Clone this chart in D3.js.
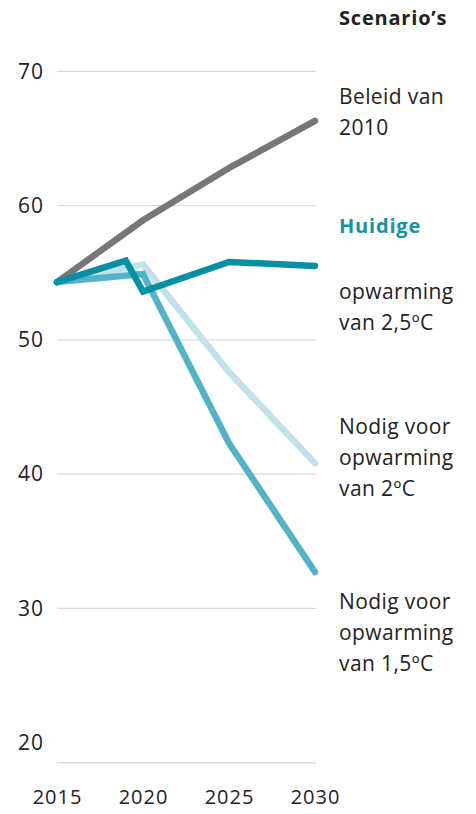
<!DOCTYPE html>
<html>
<head>
<meta charset="utf-8">
<script src="https://cdn.jsdelivr.net/npm/d3@7"></script>
<style>
  body { margin: 0; background: #fff; }
  text { font-family: "Open Sans", sans-serif; fill: #222; }
</style>
</head>
<body>
<div id="chart"></div>
<script>
const width = 476, height = 814;

// data
const yTicks = [20, 30, 40, 50, 60, 70];
const gridValues = [30, 40, 50, 60, 70];
const xTicks = [2015, 2020, 2025, 2030];

const beleidYears = [2015, 2020, 2025, 2030];
const beleidValues = [54.3, 58.9, 62.8, 66.3];

const huidigeYears = [2015, 2019, 2020, 2025, 2030];
const huidigeValues = [54.3, 55.9, 53.6, 55.8, 55.5];

const twoYears = [2015, 2020, 2025, 2030];
const twoValues = [54.3, 55.6, 47.6, 40.8];

const onefiveYears = [2015, 2020, 2025, 2030];
const onefiveValues = [54.3, 54.9, 42.3, 32.7];

const svg = d3.select("#chart").append("svg")
    .attr("width", width)
    .attr("height", height);

const xScale = d3.scaleLinear().domain([2015, 2030]).range([57, 315]);
const yScale = d3.scaleLinear().domain([18.5, 70]).range([762.7, 71.3]);

// gridlines
svg.append("g").selectAll("line")
    .data(gridValues)
    .enter().append("line")
    .attr("x1", 57).attr("x2", 316)
    .attr("y1", d => yScale(d)).attr("y2", d => yScale(d))
    .attr("stroke", "#d9d9d9")
    .attr("stroke-width", 1.2);

// baseline
svg.append("line")
    .attr("x1", 57).attr("x2", 316)
    .attr("y1", yScale(18.5)).attr("y2", yScale(18.5))
    .attr("stroke", "#d9d9d9")
    .attr("stroke-width", 1.5);

// y axis labels
const yAxis = d3.axisLeft(yScale).tickValues(yTicks).tickSize(0).tickPadding(0);
const yAxisG = svg.append("g").attr("transform", "translate(18,0)").call(yAxis);
yAxisG.select(".domain").remove();
yAxisG.selectAll("text")
    .attr("text-anchor", "start")
    .attr("x", 0)
    .style("font-size", "21px")
    .style("letter-spacing", "1px")
    .style("font-family", "'Open Sans', sans-serif")
    .style("fill", "#222");

// x axis labels
const xAxis = d3.axisBottom(xScale).tickValues(xTicks).tickFormat(d3.format("d")).tickSize(0).tickPadding(0);
const xAxisG = svg.append("g").attr("transform", "translate(0,790)").call(xAxis);
xAxisG.select(".domain").remove();
xAxisG.selectAll("text")
    .style("font-size", "20px")
    .style("letter-spacing", "1px")
    .style("font-family", "'Open Sans', sans-serif")
    .style("fill", "#222");

const line = d3.line()
    .x(d => xScale(d[0]))
    .y(d => yScale(d[1]));

const series = [
  { years: twoYears, values: twoValues, color: "#c2e1e9" },
  { years: onefiveYears, values: onefiveValues, color: "#52b2c6" },
  { years: beleidYears, values: beleidValues, color: "#777777" },
  { years: huidigeYears, values: huidigeValues, color: "#078fa3" }
];

svg.append("g").selectAll("path")
    .data(series)
    .enter().append("path")
    .attr("d", s => line(s.years.map((y, i) => [y, s.values[i]])))
    .attr("fill", "none")
    .attr("stroke", s => s.color)
    .attr("stroke-width", 6.5)
    .attr("stroke-linecap", "round")
    .attr("stroke-linejoin", "miter");

// labels on the right
const labels = [
  { text: "Scenario\u2019s", y: 25, bold: true, color: "#222" },
  { text: "Beleid van", y: 104 },
  { text: "2010", y: 135 },
  { text: "Huidige", y: 233, bold: true, color: "#1692a5" },
  { text: "opwarming", y: 299 },
  { text: "van 2,5\u00baC", y: 330 },
  { text: "Nodig voor", y: 434 },
  { text: "opwarming", y: 465 },
  { text: "van 2\u00baC", y: 496 },
  { text: "Nodig voor", y: 609 },
  { text: "opwarming", y: 640 },
  { text: "van 1,5\u00baC", y: 671 }
];

svg.append("g").selectAll("text")
    .data(labels)
    .enter().append("text")
    .attr("x", 339)
    .attr("y", d => d.y)
    .style("font-size", d => d.bold ? "20px" : "21px")
    .style("letter-spacing", d => d.bold ? "0.8px" : "0.4px")
    .style("font-weight", d => d.bold ? "bold" : "normal")
    .style("fill", d => d.color || "#222")
    .text(d => d.text);
</script>
</body>
</html>
